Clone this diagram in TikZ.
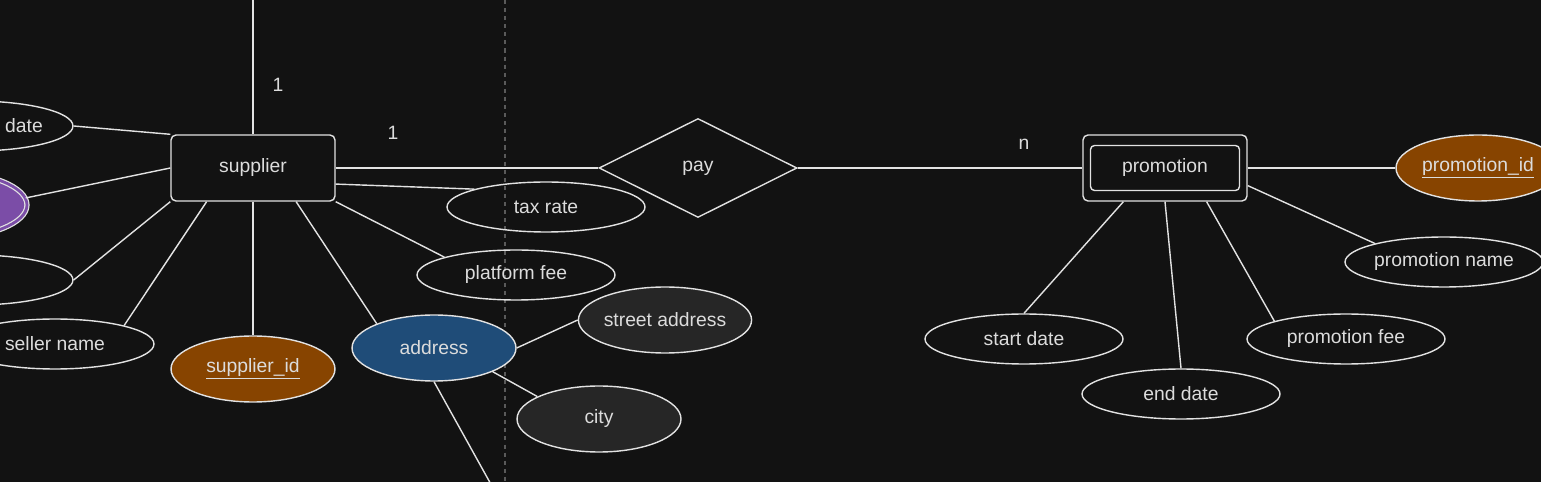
\documentclass[tikz,border=0pt]{standalone}
\usepackage{fontspec}
\setmainfont{Liberation Sans}
\usetikzlibrary{shapes.geometric}

\definecolor{bgcol}{HTML}{121212}
\definecolor{linecol}{HTML}{E2E2E2}
\definecolor{txtcol}{HTML}{DCDCDC}
\definecolor{keycol}{HTML}{874400}
\definecolor{compcol}{HTML}{1F4C78}
\definecolor{subcol}{HTML}{262626}
\definecolor{multicol}{HTML}{7B4DA7}
\definecolor{sepcol}{HTML}{5A5A5A}

\tikzset{
  every node/.style={font=\fontsize{11}{13}\selectfont, text=txtcol},
  edge/.style={draw=linecol, line width=0.8pt},
  entity/.style={draw=linecol, line width=0.8pt, rounded corners=0.1cm,
    minimum width=3.28cm, minimum height=1.32cm, inner sep=0pt},
  weakinner/.style={draw=linecol, line width=0.8pt, rounded corners=0.08cm,
    minimum width=2.98cm, minimum height=0.9cm, inner sep=0pt},
  relation/.style={diamond, draw=linecol, line width=0.8pt,
    minimum width=3.96cm, minimum height=1.98cm, inner sep=0pt},
  attr/.style={ellipse, draw=linecol, line width=0.8pt,
    minimum width=3.96cm, minimum height=1cm, inner sep=0pt},
  bigattr/.style={attr, minimum width=3.28cm, minimum height=1.32cm},
  keyattr/.style={bigattr, fill=keycol},
  compattr/.style={bigattr, fill=compcol},
  subattr/.style={bigattr, fill=subcol},
  multiattr/.style={bigattr, fill=multicol, double=multicol, double distance=1.6pt, line width=0.7pt},
  card/.style={inner sep=1pt}
}

\begin{document}
\begin{tikzpicture}[x=0.02cm, y=-0.02cm]
      % Canvas
      \useasboundingbox (0,0) rectangle (1541,482);
      \fill[bgcol] (0,0) rectangle (1541,482);
      \clip (0,0) rectangle (1541,482);

      % Page separator
      \draw[sepcol, line width=0.6pt, dash pattern=on 2.3pt off 2.3pt] (505,0) -- (505,482);

      % Entities and relation
      \node[entity] (supplier) at (253,168) {supplier};
      \node[relation] (pay) at (698,168) {pay};
      \node[entity] (promotion) at (1165,168) {};
      \node[weakinner] (promotioninner) at (1165,168) {promotion};

      % Supplier attributes
      \node[attr] (date) at (-26,126) {};
      \node (datetext) at (24,126) {date};
      \node[multiattr] (multi) at (-55,205) {};
      \node[attr] (attrthree) at (-26,280) {};
      \node[attr] (sellername) at (55,344) {seller name};
      \node[keyattr] (supplierid) at (253,369) {\underline{supplier\_id}};
      \node[compattr] (address) at (434,348) {address};
      \node[attr] (taxrate) at (546,207) {tax rate};
      \node[attr] (platformfee) at (516,275) {platform fee};
      \node[subattr] (streetaddress) at (665,320) {street address};
      \node[subattr] (city) at (599,419) {city};

      % Promotion attributes
      \node[keyattr] (promotionid) at (1478,168) {\underline{promotion\_id}};
      \node[attr] (promotionname) at (1444,262) {promotion name};
      \node[attr] (promotionfee) at (1346,339) {promotion fee};
      \node[attr] (enddate) at (1181,394) {end date};
      \node[attr] (startdate) at (1024,339) {start date};

      % Free ends
      \coordinate (topend) at (253,-5);
      \coordinate (addressend) at (493,488);

      % Connectors
      \draw[edge] (supplier) -- (topend);
      \draw[edge] (supplier) -- (pay);
      \draw[edge] (pay) -- (promotion);
      \draw[edge] (promotion) -- (promotionid);
      \draw[edge] (promotion.-12) -- (promotionname.165);
      \draw[edge] (promotion.-39) -- (promotionfee.166);
      \draw[edge] (promotion.south) -- (enddate.north);
      \draw[edge] (promotion.-141) -- (startdate.north);

      \draw[edge] (supplier.north west) -- (date.east);
      \draw[edge] (supplier.west) -- (multi.5);
      \draw[edge] (supplier.south west) -- (attrthree.east);
      \draw[edge] (supplier.-144) -- (sellername.15);
      \draw[edge] (supplier) -- (supplierid);
      \draw[edge] (supplier.-38) -- (address.157);
      \draw[edge] (supplier.south east) -- (platformfee.166);
      \draw[edge] (supplier.-11) -- (taxrate.166);

      \draw[edge] (address.east) -- (streetaddress.west);
      \draw[edge] (address.-22) -- (city.160);
      \draw[edge] (address.south) -- (addressend);

      % Cardinalities
      \node[card] (cardtop) at (278,85) {1};
      \node[card] (cardpay) at (393,133) {1};
      \node[card] (cardpromo) at (1024,144) {n};
    \end{tikzpicture}
\end{document}
